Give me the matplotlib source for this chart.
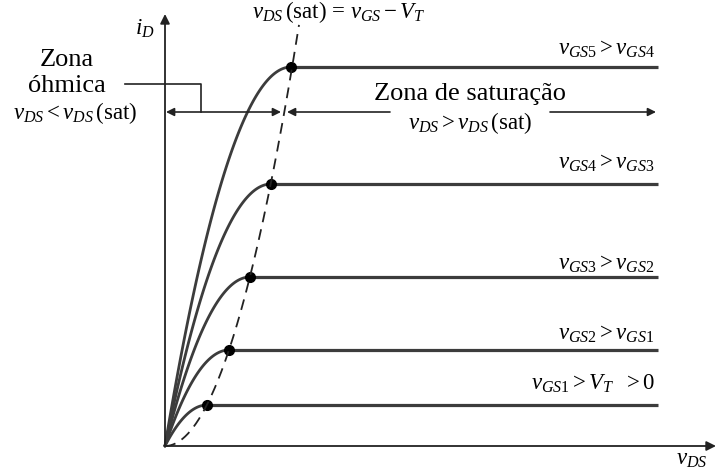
import numpy as np
import matplotlib
matplotlib.use("Agg")
import matplotlib.pyplot as plt

plt.rcParams['font.family'] = ['Liberation Serif', 'DejaVu Serif']
plt.rcParams['mathtext.fontset'] = 'custom'
plt.rcParams['mathtext.rm'] = 'Liberation Serif'
plt.rcParams['mathtext.it'] = 'Liberation Serif:italic'

# saturation points of each gate-voltage curve (arbitrary units)
vds_sat = [42, 64, 85, 106, 126]
id_sat = [41, 96, 169, 262, 379]
curve_labels = [r'$v_{GS1} > V_T\ \ > 0$',
                r'$v_{GS2} > v_{GS1}$',
                r'$v_{GS3} > v_{GS2}$',
                r'$v_{GS4} > v_{GS3}$',
                r'$v_{GS5} > v_{GS4}$']
vds_max = 493

LC = '#3c3c3c'
MS = 16.5

fig = plt.figure(figsize=(7.16, 4.70), dpi=100)
ax = fig.add_axes([0, 0, 1, 1])
ax.set_xlim(-165, 551)
ax.set_ylim(-24, 446)
ax.axis('off')

# axes with arrows
ax.annotate('', xy=(551, 0), xytext=(-1, 0),
            arrowprops=dict(arrowstyle='-|>', color='#222222', lw=1.3,
                            mutation_scale=14, shrinkA=0, shrinkB=0))
ax.annotate('', xy=(0, 432), xytext=(0, -1),
            arrowprops=dict(arrowstyle='-|>', color='#222222', lw=1.3,
                            mutation_scale=14, shrinkA=0, shrinkB=0))
ax.text(-20, 417, r'$i_D$', fontsize=MS, ha='center', va='center')
ax.text(527, -13, r'$v_{DS}$', fontsize=MS, ha='center', va='center')

# output curves: ohmic part then flat saturation part
label_y = [62, 112, 182, 283, 397]
for vs, isat, lab, ly in zip(vds_sat, id_sat, curve_labels, label_y):
    t = np.linspace(0, 1, 100)
    ax.plot(t * vs, isat * (2 * t - t ** 2), color=LC, lw=2.0,
            solid_capstyle='butt')
    ax.plot([vs, vds_max], [isat, isat], color=LC, lw=2.3,
            solid_capstyle='butt')
    ax.plot(vs, isat, 'o', color='black', ms=7)
    ax.text(490, ly, lab, fontsize=MS, ha='right', va='center')

# boundary v_DS(sat): parabola through the saturation points
k = np.mean(np.array(id_sat) / np.array(vds_sat) ** 2)
xb = np.linspace(0, 134, 200)
ax.plot(xb, k * xb ** 2, color='#222222', lw=1.3, ls=(0, (6, 4)))
ax.text(87, 434, r'$v_{DS}\,$(sat) = $v_{GS} - V_T$', fontsize=MS,
        ha='left', va='center')

# region arrows
ya = 334
arr = dict(arrowstyle='<|-|>', color='#222222', lw=1.2,
           mutation_scale=12, shrinkA=0, shrinkB=0)
ax.annotate('', xy=(1, ya), xytext=(116, ya), arrowprops=arr)
ax.annotate('', xy=(122, ya), xytext=(225, ya),
            arrowprops=dict(arr, arrowstyle='-|>'))
ax.annotate('', xy=(491, ya), xytext=(385, ya),
            arrowprops=dict(arr, arrowstyle='-|>'))

# ohmic bracket
ax.plot([-40, 36, 36], [362, 362, ya], color='#222222', lw=1.2)
ax.text(-98, 386, 'Zona', fontsize=19, ha='center', va='center')
ax.text(-98, 360, 'óhmica', fontsize=19, ha='center', va='center')
ax.text(-90, 333, r'$v_{DS} < v_{DS}\,$(sat)', fontsize=MS,
        ha='center', va='center')

ax.text(305, 352, 'Zona de saturação', fontsize=19, ha='center', va='center')
ax.text(305, 323, r'$v_{DS} > v_{DS}\,$(sat)', fontsize=MS,
        ha='center', va='center')

fig.savefig('out.png', dpi=100)
